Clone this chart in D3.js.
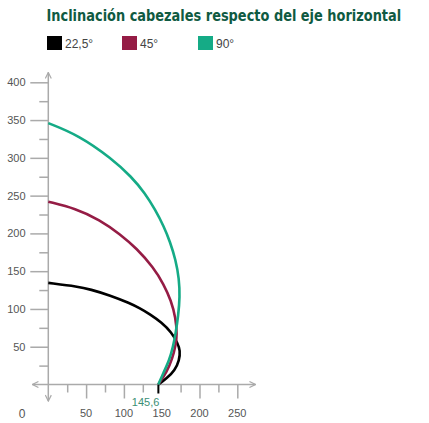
<!DOCTYPE html>
<html>
<head>
<meta charset="utf-8">
<script src="https://cdn.jsdelivr.net/npm/d3@7"></script>
<style>
  body { margin: 0; background: #fff; }
  svg text { font-family: "Liberation Sans", Arial, sans-serif; }
</style>
</head>
<body>
<script>
// data (x, y in chart units)
var seriesNames = ["22,5°", "45°", "90°"];
var seriesColors = ["#000000", "#951c45", "#15ab86"];

var black = [[145.6,0],[156.6,8],[167.5,19],[173.3,32],[174.5,45],[171,55],[163,69],[150,82],[134.5,93],[121,101],[108,107.5],[82,118],[55,126],[40,129.5],[0,134.5]];
var maroon = [[145.6,0],[157,17],[164,34],[168.5,52],[170.3,66],[168.5,88],[162.5,111],[152.5,133],[139,155],[117,180],[95,199],[68,218],[36,233],[0,242]];
var green = [[145.6,0],[152,15],[160,32],[165,50],[168.5,68],[172,92],[174,116],[173,140],[168.5,165],[161,189],[153,209],[141,232],[128,253],[110,275],[84,299],[40,330],[0,346]];
var curves = [black, maroon, green];

var yMajor = [50, 100, 150, 200, 250, 300, 350, 400];
var yMinor = [25, 75, 125, 175, 225, 275, 325, 375];
var xMajor = [50, 100, 200, 250];
var xMinor = [25, 75, 125, 175, 225];
var xLabels = [50, 100, 150, 200, 250];
var startX = 145.6;

var width = 429, height = 423;

var svg = d3.select("body").append("svg")
  .attr("width", width)
  .attr("height", height);

var x = d3.scaleLinear().domain([0, 250]).range([48.3, 237.3]);
var y = d3.scaleLinear().domain([0, 400]).range([384.5, 82.3]);

// title (squeezed horizontally to the condensed width of the original)
var title = svg.append("text")
  .attr("x", 0)
  .attr("y", 0)
  .style("font-family", "'DejaVu Sans Condensed', 'Liberation Sans', sans-serif")
  .style("font-weight", "bold")
  .style("font-size", "16px")
  .style("fill", "#0f5a42")
  .text("Inclinación cabezales respecto del eje horizontal");
var titleW = title.node().getComputedTextLength();
title.attr("transform", "translate(46.5,20.5) scale(" + (355 / titleW) + ",1)");

// legend
var legendX = [47, 122, 198];
var legend = svg.selectAll(".legend")
  .data(seriesNames)
  .enter().append("g")
  .attr("class", "legend")
  .attr("transform", function(d, i) { return "translate(" + legendX[i] + ",36)"; });

legend.append("rect")
  .attr("width", 15)
  .attr("height", 14)
  .style("fill", function(d, i) { return seriesColors[i]; });

legend.append("text")
  .attr("x", 18)
  .attr("y", 11.5)
  .style("font-size", "12px")
  .style("fill", "#444")
  .text(function(d) { return d; });

// arrow markers
var defs = svg.append("defs");
defs.append("marker")
  .attr("id", "arrow")
  .attr("viewBox", "0 0 10 10")
  .attr("refX", 9)
  .attr("refY", 5)
  .attr("markerWidth", 5)
  .attr("markerHeight", 5)
  .attr("orient", "auto-start-reverse")
  .append("path")
  .attr("d", "M1,1 L9,5 L1,9")
  .style("fill", "none")
  .style("stroke", "#aaa")
  .style("stroke-width", 1.6);

var axisColor = "#aaa";

// y axis
var yAxisG = svg.append("g").attr("class", "y axis");
yAxisG.append("g")
  .attr("transform", "translate(" + x(0) + ",0)")
  .call(d3.axisLeft(y).tickValues(yMajor).tickSize(18).tickFormat(""));
yAxisG.append("g")
  .attr("transform", "translate(" + x(0) + ",0)")
  .call(d3.axisLeft(y).tickValues(yMinor).tickSize(9).tickFormat(""));

// x axis
var xAxisG = svg.append("g").attr("class", "x axis");
xAxisG.append("g")
  .attr("transform", "translate(0," + y(0) + ")")
  .call(d3.axisBottom(x).tickValues(xMajor).tickSize(14).tickFormat(""));
xAxisG.append("g")
  .attr("transform", "translate(0," + y(0) + ")")
  .call(d3.axisBottom(x).tickValues(xMinor).tickSize(8).tickFormat(""));

svg.selectAll(".axis .domain").remove();
svg.selectAll(".axis line")
  .style("stroke", axisColor)
  .style("stroke-width", 1.5);

// axis lines with arrows on both ends
svg.append("line")
  .attr("x1", x(0)).attr("x2", x(0))
  .attr("y1", y(-22)).attr("y2", y(413))
  .attr("marker-start", "url(#arrow)")
  .attr("marker-end", "url(#arrow)")
  .style("stroke", axisColor)
  .style("stroke-width", 1.5);

svg.append("line")
  .attr("x1", x(-21)).attr("x2", x(274))
  .attr("y1", y(0)).attr("y2", y(0))
  .attr("marker-start", "url(#arrow)")
  .attr("marker-end", "url(#arrow)")
  .style("stroke", axisColor)
  .style("stroke-width", 1.5);

// tick labels
svg.selectAll(".ylabel")
  .data(yMajor)
  .enter().append("text")
  .attr("class", "ylabel")
  .attr("x", 25.5)
  .attr("y", function(d) { return y(d) + 4; })
  .style("text-anchor", "end")
  .style("font-size", "11px")
  .style("fill", "#555")
  .text(function(d) { return d; });

svg.selectAll(".xlabel")
  .data(xLabels)
  .enter().append("text")
  .attr("class", "xlabel")
  .attr("x", function(d) { return x(d); })
  .attr("y", 417)
  .style("text-anchor", "middle")
  .style("font-size", "11px")
  .style("fill", "#555")
  .text(function(d) { return d; });

svg.append("text")
  .attr("x", 22)
  .attr("y", 418)
  .style("text-anchor", "middle")
  .style("font-size", "12px")
  .style("fill", "#555")
  .text("0");

// start point tick and label
svg.append("line")
  .attr("x1", x(startX)).attr("x2", x(startX))
  .attr("y1", y(0)).attr("y2", y(0) + 9)
  .style("stroke", "#000")
  .style("stroke-width", 2);

svg.append("text")
  .attr("x", x(startX) + 1)
  .attr("y", 405.5)
  .style("text-anchor", "end")
  .style("font-size", "11px")
  .style("fill", "#3b8f74")
  .text("145,6");

// curves
var line = d3.line()
  .x(function(d) { return x(d[0]); })
  .y(function(d) { return y(d[1]); })
  .curve(d3.curveBasis);

svg.selectAll(".curve")
  .data(curves)
  .enter().append("path")
  .attr("class", "curve")
  .attr("d", line)
  .style("fill", "none")
  .style("stroke", function(d, i) { return seriesColors[i]; })
  .style("stroke-width", 2.6);
</script>
</body>
</html>
